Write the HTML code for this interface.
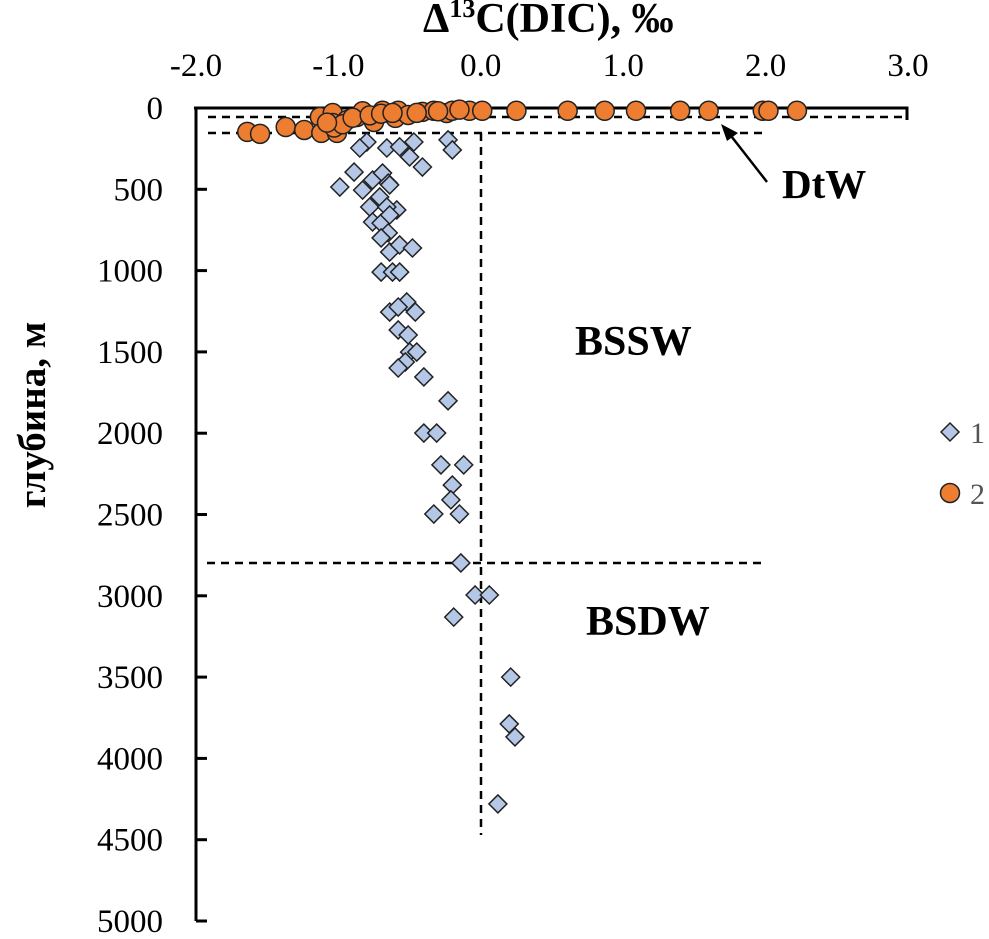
<!DOCTYPE html>
<html><head><meta charset="utf-8"><style>
body{margin:0;background:#fff;}
svg{display:block;font-family:"Liberation Serif",serif;}
</style></head><body>
<svg id="chart" width="989" height="939"></svg>
<script>
const xTicks=[-2,-1,0,1,2,3];
const xTickLabels=["-2.0","-1.0","0.0","1.0","2.0","3.0"];
const yTicks=[0,500,1000,1500,2000,2500,3000,3500,4000,4500,5000];
const s1x=[-0.80,-0.85,-0.47,-0.23,-0.20,-0.66,-0.57,-0.50,-0.41,-0.89,-0.99,-0.76,-0.69,-0.65,-0.83,-0.71,-0.78,-0.59,-0.66,-0.76,-0.70,-0.65,-0.64,-0.64,-0.70,-0.64,-0.57,-0.48,-0.70,-0.62,-0.57,-0.52,-0.64,-0.58,-0.46,-0.58,-0.51,-0.50,-0.45,-0.53,-0.58,-0.40,-0.23,-0.40,-0.31,-0.28,-0.12,-0.20,-0.21,-0.33,-0.15,-0.14,-0.04,0.06,-0.19,0.21,0.20,0.24,0.12];
const s1y=[209,246,209,196,258,246,239,301,363,394,486,443,400,462,505,547,609,627,609,701,708,768,473,658,799,886,842,861,1009,1009,1009,1193,1255,1224,1255,1365,1396,1501,1501,1562,1599,1654,1801,1999,1999,2195,2195,2319,2410,2497,2497,2798,2995,2995,3131,3500,3788,3868,4280];
const s2x=[-1.64,-1.55,-1.37,-1.24,-1.13,-1.12,-1.04,-1.01,-1.04,-0.94,-0.87,-0.83,-0.75,-0.69,-0.60,-0.58,-0.51,-0.41,-0.33,-0.24,-0.20,-0.08,0.01,0.25,0.61,0.87,1.09,1.40,1.60,1.98,2.02,2.22,-1.03,-0.97,-0.90,-0.78,-0.70,-0.45,-0.30,-0.15,-1.08,-0.62];
const s2y=[147,159,117,135,55,153,31,153,92,74,55,20,86,17,61,17,43,24,17,31,17,17,17,17,17,17,17,17,17,17,17,17,120,100,60,45,35,30,20,10,90,30];
const NS="http://www.w3.org/2000/svg";
const svg=document.getElementById('chart');
const X0=196,XS=142.4,Y0=108,YS=0.1626;
const sx=v=>X0+(v+2)*XS, sy=d=>Y0+d*YS;
function mk(t,a,p){const e=document.createElementNS(NS,t);for(const k in a)e.setAttribute(k,a[k]);(p||svg).appendChild(e);return e;}
// dashed lines
const dl=[[208,117,905,117],[208,133,765,133],[481,133,481,835],[207,563,765,563]];
dl.forEach(l=>{const e=mk('line',{x1:l[0],y1:l[1],x2:l[2],y2:l[3],stroke:'#000','stroke-width':2.5,'stroke-dasharray':'8,6'});

});
// axes
let ax=mk('path',{d:'M194,108 H907 V120',fill:'none',stroke:'#000','stroke-width':3});


let ay=mk('line',{x1:196,y1:107,x2:196,y2:921,stroke:'#000','stroke-width':3});


xTicks.forEach((v,i)=>{
const t=mk('text',{x:sx(v),y:76,'text-anchor':'middle','font-size':33});t.textContent=xTickLabels[i];

});
yTicks.forEach(v=>{mk('line',{x1:196,y1:sy(v),x2:207,y2:sy(v),stroke:'#000','stroke-width':3});
const t=mk('text',{x:163,y:sy(v)+11,'text-anchor':'end','font-size':33});t.textContent=v;

});
// series 1 diamonds
s1x.forEach((v,i)=>{const cx=sx(v),cy=sy(s1y[i]);
const p=mk('polygon',{points:`${cx},${cy-9} ${cx+9},${cy} ${cx},${cy+9} ${cx-9},${cy}`,fill:'#b4c7e7',stroke:'#222','stroke-width':1.5});

});
// series 2 circles
s2x.forEach((v,i)=>{const c=mk('circle',{cx:sx(v),cy:sy(s2y[i]),r:9.5,fill:'#ed7d31',stroke:'#222','stroke-width':1.5});

});
// arrow
let ar=mk('line',{x1:767,y1:182,x2:728,y2:132,stroke:'#000','stroke-width':2.5});


mk('polygon',{points:'721,124 738,133 727,141',fill:'#000'});
// labels
function lab(x,y,txt,name,size,anchor){const t=mk('text',{x:x,y:y,'font-size':size||41,'font-weight':'bold','text-anchor':anchor||'start'});t.textContent=txt;

return t;}
lab(782,198,'DtW','dtw-label',41);
lab(575,355,'BSSW','bssw-label',42);
lab(586,635,'BSDW','bsdw-label',42);
const tt=mk('text',{x:423,y:32,'font-size':42,'font-weight':'bold','text-anchor':'start'});
tt.innerHTML='Δ<tspan font-size="26" dy="-15">13</tspan><tspan dy="15">C(DIC), ‰</tspan>';


const yt=mk('text',{x:0,y:0,'font-size':39,'font-weight':'bold','text-anchor':'middle',transform:'translate(45,415) rotate(-90)',
'font-family':'"Liberation Serif","DejaVu Serif",serif'});yt.textContent='глубина, м';


// legend
const l1=mk('polygon',{points:'950,423 959,432 950,441 941,432',fill:'#b4c7e7',stroke:'#222','stroke-width':1.5});


const lt1=mk('text',{x:970,y:443,'font-size':30,fill:'#555'});lt1.textContent='1';


const l2=mk('circle',{cx:950,cy:493,r:9.5,fill:'#ed7d31',stroke:'#222','stroke-width':1.5});


const lt2=mk('text',{x:970,y:504,'font-size':30,fill:'#555'});lt2.textContent='2';


</script>
</body></html>
